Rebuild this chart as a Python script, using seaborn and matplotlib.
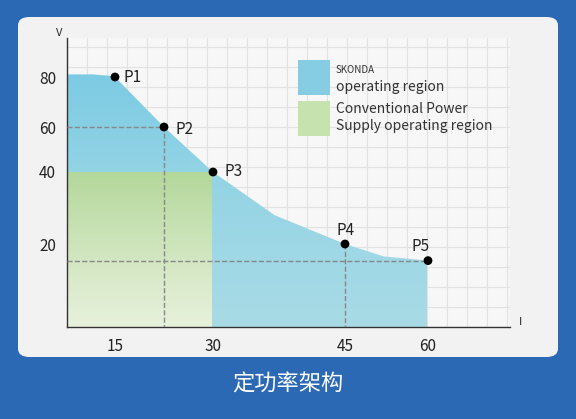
import numpy as np
import matplotlib
matplotlib.use("Agg")
import matplotlib.pyplot as plt
import seaborn as sns
from matplotlib.patches import FancyBboxPatch, Polygon, Rectangle
from matplotlib.colors import LinearSegmentedColormap

sns.set_theme(style="white")
plt.rcParams['font.family'] = ['Noto Sans CJK SC', 'DejaVu Sans']

# data
pt_names = ["P1", "P2", "P3", "P4", "P5"]
pt_x = [15, 22.5, 30, 45, 60]
pt_y = [80, 60, 40, 20, 16]
edge_x = [0, 8, 13, 15, 22.5, 30, 37, 45, 52, 60, 60]
edge_y = [81, 81, 80.5, 80, 60, 40, 28, 20, 17, 16, 0]
conv_x = [0, 30]
conv_y = [0, 40]
x_ticks = [15, 30, 45, 60]
y_ticks = [20, 40, 60, 80]

# the axes of the original are not linear: piecewise scales
xk = [0, 15, 30, 45, 60, 70]
xp = [0, 48, 146, 278, 361, 443]
yk = [0, 20, 40, 60, 80, 95]
yp = [0, 83, 155, 200, 250, 289]
fx = lambda v: np.interp(v, xk, xp)
ix = lambda v: np.interp(v, xp, xk)
fy = lambda v: np.interp(v, yk, yp)
iy = lambda v: np.interp(v, yp, yk)

fig = plt.figure(figsize=(5.76, 4.19), dpi=100)
fig.patch.set_facecolor("#2c69b4")
panel = FancyBboxPatch((18/576, 62/419), 540/576, 340/419,
                       boxstyle="round,pad=0,rounding_size=0.02",
                       transform=fig.transFigure, fc="#f2f2f2", ec="none", zorder=-5)
fig.patches.append(panel)

# graph-paper background
bg = fig.add_axes([67/576, 92/419, 443/576, 289/419])
bg.set_xlim(0, 443); bg.set_ylim(0, 289)
bg.set_facecolor("#f7f7f7")
for v in np.arange(0, 443, 20):
    bg.axvline(v, color="#e2e2e2", lw=0.8)
for v in np.arange(0, 289, 20):
    bg.axhline(v, color="#e2e2e2", lw=0.8)
bg.set_xticks([]); bg.set_yticks([])
for s in bg.spines.values():
    s.set_visible(False)

ax = fig.add_axes([67/576, 92/419, 443/576, 289/419])
ax.patch.set_alpha(0)
ax.set_xscale("function", functions=(fx, ix))
ax.set_yscale("function", functions=(fy, iy))
ax.set_xlim(0, 70); ax.set_ylim(0, 95)

# blue region with gradient
poly = Polygon(list(zip(edge_x, edge_y)) + [(0, 0)], closed=True, transform=ax.transData,
               fc="none", ec="none")
ax.add_patch(poly)
grad = np.linspace(0, 1, 256).reshape(-1, 1)
bcm = LinearSegmentedColormap.from_list("b", ["#a8dbe6", "#7ccbe3"])
im = ax.imshow(grad, cmap=bcm, extent=[0, 60, 0, 82], aspect="auto", origin="lower", zorder=1)
im.set_clip_path(poly)

# green region
gcm = LinearSegmentedColormap.from_list("g", ["#e8f1dc", "#b3d79a"])
ax.imshow(grad, cmap=gcm, extent=[conv_x[0], conv_x[1], conv_y[0], conv_y[1]],
          aspect="auto", origin="lower", zorder=2)
ax.set_xlim(0, 70); ax.set_ylim(0, 95)

# dashed guides
dkw = dict(color="#888888", ls="--", lw=1, zorder=3)
ax.plot([0, pt_x[1], pt_x[1]], [pt_y[1], pt_y[1], 0], **dkw)
ax.plot([pt_x[3], pt_x[3]], [pt_y[3], 0], **dkw)
ax.plot([0, pt_x[4]], [pt_y[4], pt_y[4]], **dkw)

sns.scatterplot(x=pt_x, y=pt_y, color="black", s=40, ax=ax, zorder=5, edgecolor="none")
offs = [(6, 0), (8, -2), (8, 0), (-6, 10), (-12, 10)]
for n, x, y, (dx, dy) in zip(pt_names, pt_x, pt_y, offs):
    ax.annotate(n, (x, y), xytext=(dx, dy), textcoords="offset points",
                fontsize=11, color="#222222", va="center", zorder=6)

for s in ["top", "right"]:
    ax.spines[s].set_visible(False)
for s in ["left", "bottom"]:
    ax.spines[s].set_color("#333333"); ax.spines[s].set_linewidth(1)
ax.set_xticks(x_ticks); ax.set_yticks(y_ticks)
ax.set_xticklabels([str(t) for t in x_ticks], fontsize=11, color="#222222")
ax.set_yticklabels([str(t) for t in y_ticks], fontsize=11, color="#222222")
ax.tick_params(length=0, pad=8)
ax.minorticks_off()
ax.text(1.02, 0.0, "I", transform=ax.transAxes, fontsize=8, va="bottom")
ax.text(-0.01, 1.0, "V", transform=ax.transAxes, fontsize=8, ha="right", va="bottom")

# legend
fig.patches.append(Rectangle((298/576, (419-95)/419), 32/576, 35/419, transform=fig.transFigure,
                             fc="#86cde3", ec="none", zorder=10))
fig.patches.append(Rectangle((298/576, (419-136)/419), 32/576, 35/419, transform=fig.transFigure,
                             fc="#c6e2ae", ec="none", zorder=10))
fig.text(336/576, (419-70)/419, "SKONDA", fontsize=7, color="#333333", va="center")
fig.text(336/576, (419-87)/419, "operating region", fontsize=10, color="#333333", va="center")
fig.text(336/576, (419-109)/419, "Conventional Power", fontsize=10, color="#333333", va="center")
fig.text(336/576, (419-126)/419, "Supply operating region", fontsize=10, color="#333333", va="center")

fig.text(0.5, (419-384)/419, "定功率架构", fontsize=16, color="white", ha="center", va="center")

fig.savefig("out.png", dpi=100, facecolor=fig.get_facecolor())
